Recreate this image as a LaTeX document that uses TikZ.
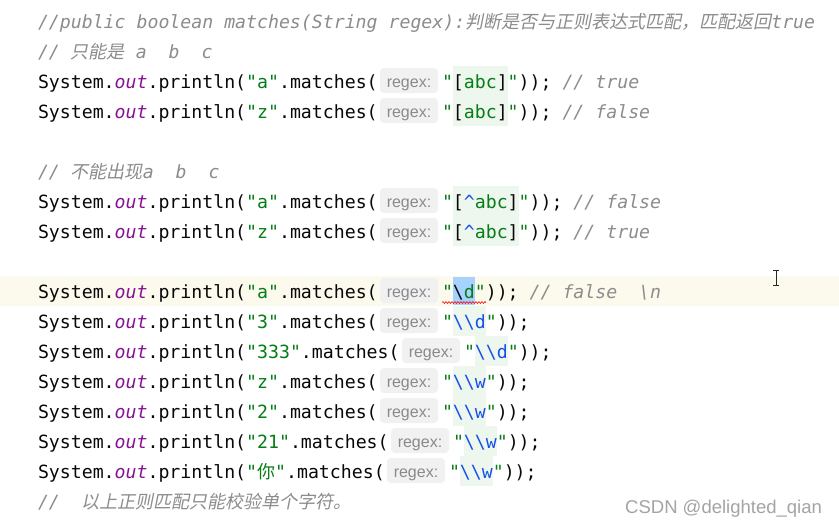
\documentclass[tikz,border=0pt]{standalone}
\usepackage{fontspec}
\setmainfont{Liberation Sans}
\newfontfamily\codefont[ItalicFont={DejaVu Sans Mono Oblique}]{DejaVu Sans Mono}
\newfontfamily\cjkup{Noto Sans CJK SC}
\newfontfamily\cjkit[FakeSlant=0.2]{Noto Sans CJK SC}
\newfontfamily\uifont{Liberation Sans}
\usetikzlibrary{decorations.pathmorphing}
\definecolor{ink}{HTML}{080808}
\definecolor{outc}{HTML}{871094}
\definecolor{strc}{HTML}{067D17}
\definecolor{cmtc}{HTML}{8C8C8C}
\definecolor{rxc}{HTML}{1750EB}
\definecolor{chipbg}{HTML}{F1F1F1}
\definecolor{chipfg}{HTML}{8A8A8A}
\definecolor{rxbg}{HTML}{EDF7EE}
\definecolor{caretrow}{HTML}{FCFAED}
\definecolor{selc}{HTML}{A6D2FF}
\definecolor{wmc}{HTML}{A4A4A4}
\newcommand{\strg}[1]{{\color{strc}#1}}
\newcommand{\rxx}[1]{{\color{rxc}#1}}
\newcommand{\cmnt}[1]{{\color{cmtc}\itshape #1}}
\newcommand{\bsl}{\textbackslash}
\newcommand{\zhit}[1]{{\cjkit\fontsize{18}{20}\selectfont #1}}
\newcommand{\zhup}[1]{{\cjkup\fontsize{18}{20}\selectfont #1}}
\newcommand{\codepre}[1]{System.{\color{outc}\itshape out}.println(\strg{"#1"}.matches(}
\tikzset{
  code/.style={anchor=base west, inner sep=0pt, outer sep=0pt,
    font=\codefont\fontsize{18.2}{20}\selectfont, text=ink},
  chip/.style={rounded corners=4pt, fill=chipbg, text=chipfg,
    minimum width=58pt, minimum height=25pt, inner sep=0pt,
    text height=13pt, text depth=0pt,
    font=\uifont\fontsize{16}{18}\selectfont},
  wmark/.style={anchor=base west, inner sep=0pt,
    font=\uifont\fontsize{18.5}{20}\selectfont, text=wmc}
}
\begin{document}
\begin{tikzpicture}[x=1pt,y=-1pt]
\useasboundingbox (0,0) rectangle (839,525);
\fill[white] (0,0) rectangle (839,525);
% backgrounds
\fill[caretrow] (0,276) rectangle (839,306);
\fill[rxbg] (453,66) rectangle (508,126);
\fill[rxbg] (453,186) rectangle (519,246);
\fill[rxbg] (453,306) rectangle (486,336);
\fill[rxbg] (475,336) rectangle (508,366);
\fill[rxbg] (453,366) rectangle (486,426);
\fill[rxbg] (464,426) rectangle (497,456);
\fill[rxbg] (460,456) rectangle (493,486);
\fill[selc] (453,277) rectangle (475,305);
% comments
\node[code] (l1) at (38,28) {\cmnt{//public boolean matches(String regex):\zhit{判断是否与正则表达式匹配，匹配返回}true}};
\node[code] (l2) at (38,58) {\cmnt{//~\zhit{只能是}~a~~b~~c}};
\node[code] (l6) at (38,178) {\cmnt{//~\zhit{不能出现}a~~b~~c}};
\node[code] (l16) at (38,508) {\cmnt{//~~\zhit{以上正则匹配只能校验单个字符。}}};
% row 81
\node[code] (p3) at (38,88) {\codepre{a}};
\node[chip] (c3) at (409,80.5) {regex:};
\node[code] (s3) at (442,88) {\strg{"}[\strg{abc}]\strg{"}));~\cmnt{// true}};
% row 111
\node[code] (p4) at (38,118) {\codepre{z}};
\node[chip] (c4) at (409,110.5) {regex:};
\node[code] (s4) at (442,118) {\strg{"}[\strg{abc}]\strg{"}));~\cmnt{// false}};
% row 201
\node[code] (p7) at (38,208) {\codepre{a}};
\node[chip] (c7) at (409,200.5) {regex:};
\node[code] (s7) at (442,208) {\strg{"}[\rxx{\textasciicircum}\strg{abc}]\strg{"}));~\cmnt{// false}};
% row 231
\node[code] (p8) at (38,238) {\codepre{z}};
\node[chip] (c8) at (409,230.5) {regex:};
\node[code] (s8) at (442,238) {\strg{"}[\rxx{\textasciicircum}\strg{abc}]\strg{"}));~\cmnt{// true}};
% row 291
\node[code] (p9) at (38,298) {\codepre{a}};
\node[chip] (c9) at (409,290.5) {regex:};
\node[code] (s9) at (442,298) {\strg{"}\bsl\strg{d"}));~\cmnt{// false~~\bsl n}};
\draw[red, line width=0.6pt, decorate, decoration={snake, amplitude=0.9pt, segment length=3pt}] (442,302.5) -- (486,302.5);
% row 321
\node[code] (p10) at (38,328) {\codepre{3}};
\node[chip] (c10) at (409,320.5) {regex:};
\node[code] (s10) at (442,328) {\strg{"}\rxx{\bsl\bsl d}\strg{"}));};
% row 351
\node[code] (p11) at (38,358) {\codepre{333}};
\node[chip] (c11) at (431,350.5) {regex:};
\node[code] (s11) at (464,358) {\strg{"}\rxx{\bsl\bsl d}\strg{"}));};
% row 381
\node[code] (p12) at (38,388) {\codepre{z}};
\node[chip] (c12) at (409,380.5) {regex:};
\node[code] (s12) at (442,388) {\strg{"}\rxx{\bsl\bsl w}\strg{"}));};
% row 411
\node[code] (p13) at (38,418) {\codepre{2}};
\node[chip] (c13) at (409,410.5) {regex:};
\node[code] (s13) at (442,418) {\strg{"}\rxx{\bsl\bsl w}\strg{"}));};
% row 441
\node[code] (p14) at (38,448) {\codepre{21}};
\node[chip] (c14) at (420,440.5) {regex:};
\node[code] (s14) at (453,448) {\strg{"}\rxx{\bsl\bsl w}\strg{"}));};
% row 471
\node[code] (p15) at (38,478) {\codepre{\zhup{你}}};
\node[chip] (c15) at (416,470.5) {regex:};
\node[code] (s15) at (449,478) {\strg{"}\rxx{\bsl\bsl w}\strg{"}));};
% text cursor
\draw[line width=0.9pt, black!85] (773,270.5) -- (779,270.5) (776,270.5) -- (776,285) (773,285) -- (779,285);
% watermark
\node[wmark] (wm) at (625,513) {CSDN @delighted\_qian};
\end{tikzpicture}
\end{document}
